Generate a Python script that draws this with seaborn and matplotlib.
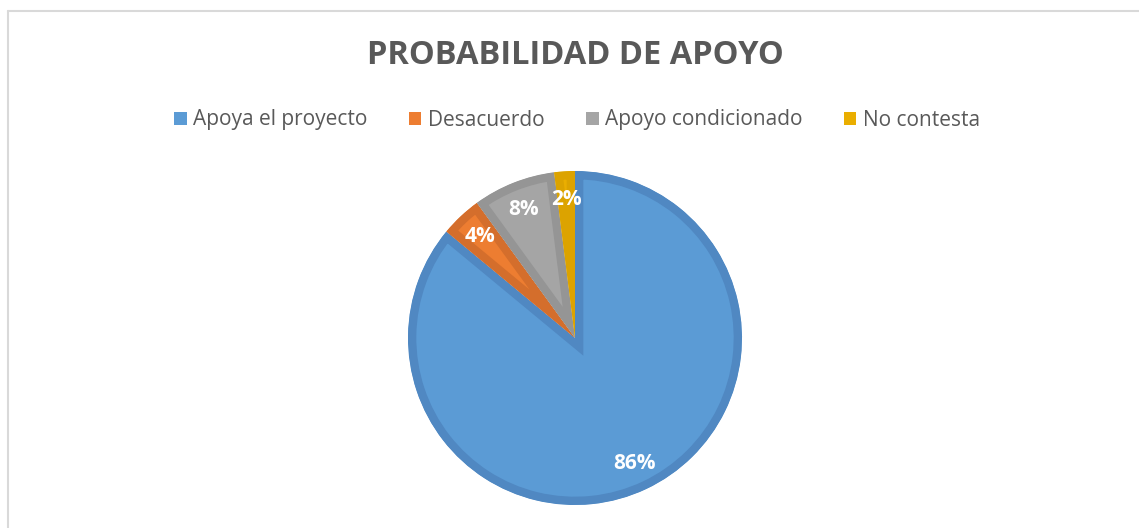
import matplotlib
matplotlib.use("Agg")
import matplotlib.pyplot as plt
import seaborn as sns
from matplotlib.patches import Patch
from matplotlib.lines import Line2D

# data
labels = ["Apoya el proyecto", "Desacuerdo", "Apoyo condicionado", "No contesta"]
values = [86, 4, 8, 2]
fill_colors = ["#5B9BD5", "#ED7D31", "#A5A5A5", "#EAAE00"]
edge_colors = ["#5088C2", "#D46E2C", "#959595", "#DCA300"]

sns.set_theme(style="white")
plt.rcParams["font.family"] = ["Open Sans", "DejaVu Sans"]

W, H = 1139, 528
fig = plt.figure(figsize=(W / 100, H / 100), dpi=100)

# pie centre and radius in pixels
cx, cy, r = 575, 338, 167
pad = 1.05
ax = fig.add_axes([(cx - r * pad) / W, (H - cy - r * pad) / H, 2 * r * pad / W, 2 * r * pad / H])

wedges, texts, autotexts = ax.pie(
    values,
    colors=fill_colors,
    startangle=90,
    counterclock=False,
    radius=1,
    autopct="%d%%",
    pctdistance=0.83,
    wedgeprops=dict(linewidth=12, joinstyle="miter"),
    textprops=dict(color="white", fontsize=15, fontweight="bold"),
)
# darker inner band: stroke clipped to the wedge itself
for w, ec in zip(wedges, edge_colors):
    w.set_edgecolor(ec)
    w.set_clip_on(True)
    w.set_clip_path(w.get_path(), w.get_transform())
ax.set_xlim(-pad, pad)
ax.set_ylim(-pad, pad)
ax.set_aspect("equal")
ax.axis("off")

fig.text(cx / W, 1 - 56 / H, "PROBABILIDAD DE APOYO", ha="center", va="center",
         fontsize=23.5, fontweight="bold", color="#595959")

handles = [Patch(facecolor=c, edgecolor="none") for c in fill_colors]
fig.legend(handles, labels, loc="center", bbox_to_anchor=(577 / W, 1 - 120 / H),
           ncol=4, frameon=False, fontsize=15, labelcolor="#595959",
           handlelength=0.6, handleheight=0.6, handletextpad=0.3, columnspacing=2.0)

# chart frame
fig.add_artist(Line2D([7.5 / W, 7.5 / W], [0, 1 - 10.5 / H], color="#D9D9D9", linewidth=1.5))
fig.add_artist(Line2D([7.5 / W, 1], [1 - 10.5 / H, 1 - 10.5 / H], color="#D9D9D9", linewidth=1.5))

fig.savefig("out.png", dpi=100, facecolor="white")
